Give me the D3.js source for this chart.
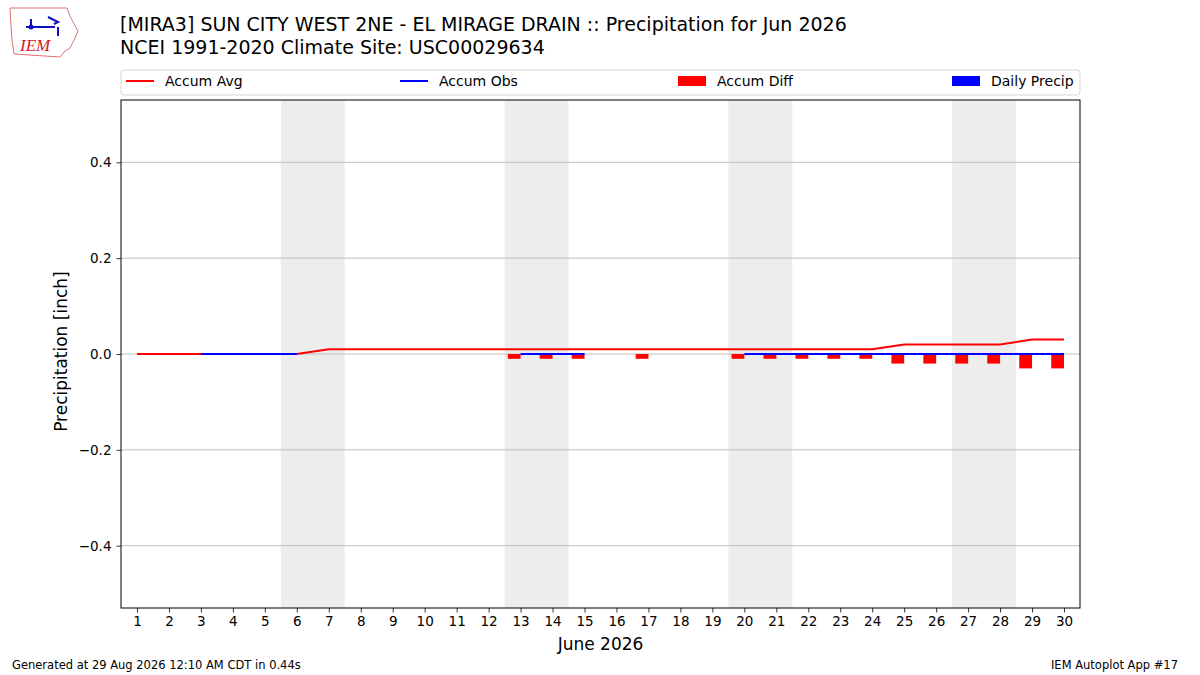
<!DOCTYPE html>
<html>
<head>
<meta charset="utf-8">
<script src="https://cdn.jsdelivr.net/npm/d3@7"></script>
<style>
  body { margin: 0; background: #fff; }
  svg { font-family: "DejaVu Sans", sans-serif; }
</style>
</head>
<body>
<svg id="chart" width="1200" height="675"></svg>
<script>
// values
var days = d3.range(1, 31);
var accumAvg = [0,0,0,0,0,0,0.01,0.01,0.01,0.01,0.01,0.01,0.01,0.01,0.01,0.01,0.01,0.01,0.01,0.01,
                0.01,0.01,0.01,0.01,0.02,0.02,0.02,0.02,0.03,0.03];
var accumObs = [null,null,0,0,0,0,null,null,null,null,null,null,0,0,0,null,0,null,null,0,
                0,0,0,0,0,0,0,0,0,0];
var accumDiff = [0,0,0,0,0,0,0,0,0,0,0,0,-0.01,-0.01,-0.01,0,-0.01,0,0,-0.01,
                 -0.01,-0.01,-0.01,-0.01,-0.02,-0.02,-0.02,-0.02,-0.03,-0.03];
var dailyPrecip = [0,0,0,0,0,0,0,0,0,0,0,0,0,0,0,0,0,0,0,0,0,0,0,0,0,0,0,0,0,0];
var weekends = [[5.5,7.5],[12.5,14.5],[19.5,21.5],[26.5,28.5]];
var yTicks = [-0.4,-0.2,0.0,0.2,0.4];

var svg = d3.select("#chart");
var margin = {left:121, right:1080, top:100, bottom:608};

var x = d3.scaleLinear().domain([0.5, 30.5]).range([margin.left, margin.right]);
var y = d3.scaleLinear().domain([-0.53, 0.53]).range([margin.bottom, margin.top]);

// weekend shading
svg.append("g").selectAll("rect")
  .data(weekends)
  .join("rect")
    .attr("x", d => x(d[0]))
    .attr("width", d => x(d[1]) - x(d[0]))
    .attr("y", margin.top)
    .attr("height", margin.bottom - margin.top)
    .attr("fill", "#ededed");

// y grid
svg.append("g").selectAll("line")
  .data(yTicks)
  .join("line")
    .attr("x1", margin.left).attr("x2", margin.right)
    .attr("y1", d => y(d)).attr("y2", d => y(d))
    .attr("stroke", "#b0b0b0").attr("stroke-width", 0.8);

// daily precip bars (all zero)
svg.append("g").selectAll("rect")
  .data(days)
  .join("rect")
    .attr("x", d => x(d))
    .attr("width", x(1.4) - x(1))
    .attr("y", (d, i) => y(Math.max(0, dailyPrecip[i])))
    .attr("height", (d, i) => Math.abs(y(dailyPrecip[i]) - y(0)))
    .attr("fill", "blue");

// accum diff bars
svg.append("g").selectAll("rect")
  .data(days)
  .join("rect")
    .attr("x", d => x(d - 0.4))
    .attr("width", x(1.4) - x(1))
    .attr("y", (d, i) => y(Math.max(0, accumDiff[i])))
    .attr("height", (d, i) => Math.abs(y(accumDiff[i]) - y(0)))
    .attr("fill", "red");

var line = d3.line()
  .defined(d => d[1] != null)
  .x(d => x(d[0]))
  .y(d => y(d[1]));

svg.append("path")
  .datum(days.map((d, i) => [d, accumAvg[i]]))
  .attr("d", line)
  .attr("fill", "none").attr("stroke", "red").attr("stroke-width", 2);

svg.append("path")
  .datum(days.map((d, i) => [d, accumObs[i]]))
  .attr("d", line)
  .attr("fill", "none").attr("stroke", "blue").attr("stroke-width", 2);

// axes
var xAxis = svg.append("g")
  .attr("transform", "translate(0," + margin.bottom + ")")
  .call(d3.axisBottom(x).tickValues(days).tickFormat(d3.format("d")).tickSize(4.5).tickPadding(4));
var yAxis = svg.append("g")
  .attr("transform", "translate(" + margin.left + ",0)")
  .call(d3.axisLeft(y).tickValues(yTicks).tickFormat(d => d3.format(".1f")(d).replace("-", "\u2212")).tickSize(4.5).tickPadding(5));
[xAxis, yAxis].forEach(function(a){
  a.select(".domain").remove();
  a.selectAll("text").attr("font-size", 13.5).attr("fill", "#000").attr("font-family", "DejaVu Sans");
  a.selectAll("line").attr("stroke", "#000").attr("stroke-width", 0.8);
});

// frame
svg.append("rect")
  .attr("x", margin.left).attr("y", margin.top)
  .attr("width", margin.right - margin.left).attr("height", margin.bottom - margin.top)
  .attr("fill", "none").attr("stroke", "#000").attr("stroke-width", 1);

// axis labels
svg.append("text")
  .attr("x", x(15.5)).attr("y", 650)
  .attr("text-anchor", "middle").attr("font-size", 17)
  .text("June 2026");
svg.append("text")
  .attr("transform", "translate(67," + y(0.005) + ") rotate(-90)")
  .attr("text-anchor", "middle").attr("font-size", 17)
  .text("Precipitation [inch]");

// title
svg.append("text").attr("x", 120).attr("y", 31).attr("font-size", 19)
  .text("[MIRA3] SUN CITY WEST 2NE - EL MIRAGE DRAIN :: Precipitation for Jun 2026");
svg.append("text").attr("x", 120).attr("y", 54).attr("font-size", 19)
  .text("NCEI 1991-2020 Climate Site: USC00029634");

// legend
var legend = svg.append("g");
legend.append("rect")
  .attr("x", 121).attr("y", 70).attr("width", 959).attr("height", 25)
  .attr("rx", 3).attr("fill", "#fff").attr("stroke", "#d6d6d6");
var legendItems = [
  {label: "Accum Avg", color: "red", kind: "line", x: 126},
  {label: "Accum Obs", color: "blue", kind: "line", x: 400},
  {label: "Accum Diff", color: "red", kind: "patch", x: 678},
  {label: "Daily Precip", color: "blue", kind: "patch", x: 952}
];
legendItems.forEach(function(d){
  if (d.kind == "line")
    legend.append("line").attr("x1", d.x).attr("x2", d.x + 28).attr("y1", 81).attr("y2", 81)
      .attr("stroke", d.color).attr("stroke-width", 2);
  else
    legend.append("rect").attr("x", d.x).attr("y", 76).attr("width", 28).attr("height", 10)
      .attr("fill", d.color);
  legend.append("text").attr("x", d.x + 39).attr("y", 86).attr("font-size", 14).text(d.label);
});

// footer
svg.append("text").attr("x", 12).attr("y", 669).attr("font-size", 11.5)
  .text("Generated at 29 Aug 2026 12:10 AM CDT in 0.44s");
svg.append("text").attr("x", 1178).attr("y", 669).attr("font-size", 11.5).attr("text-anchor", "end")
  .text("IEM Autoplot App #17");

// logo (rough Iowa outline)
var logo = svg.append("g");
logo.append("path")
  .attr("d", "M10,8 L67,8 L70,16 L74,24 L78,31 L74,40 L70,48 L64,52 L60,57 L14,54 L12,40 L11,26 Z")
  .attr("fill", "#fff").attr("stroke", "#e07070").attr("stroke-width", 1);
logo.append("path")
  .attr("d", "M26,27 L55,27 M31,27 L31,19 M48,17 L58,22 L54,24 M58,27 L58,36")
  .attr("fill", "none").attr("stroke", "#1010c0").attr("stroke-width", 2);
logo.append("circle").attr("cx", 31).attr("cy", 27).attr("r", 2.5).attr("fill", "#1010c0");
logo.append("text").attr("x", 20).attr("y", 51).attr("font-size", 17)
  .attr("font-family", "Liberation Serif, serif").attr("font-style", "italic")
  .attr("fill", "#d02020").text("IEM");
</script>
</body>
</html>
